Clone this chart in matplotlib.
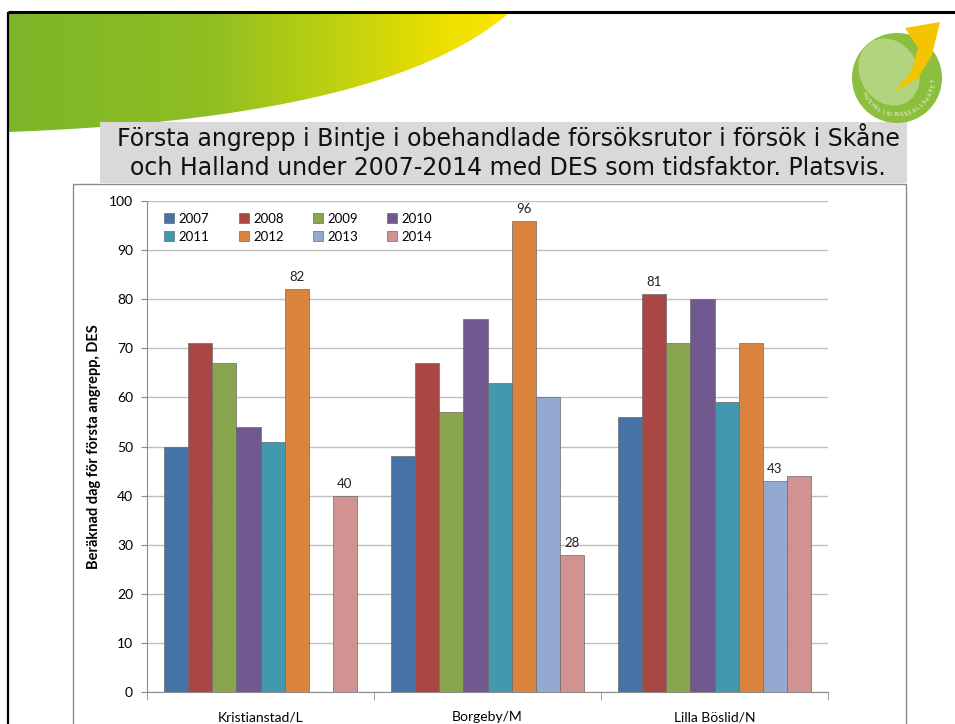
import numpy as np
import matplotlib
matplotlib.use("Agg")
import matplotlib.pyplot as plt
from matplotlib.patches import Rectangle, PathPatch, Circle, Ellipse, Polygon
from matplotlib.path import Path
from matplotlib.colors import LinearSegmentedColormap

# ---------------- data ----------------
sites = ["Kristianstad/L", "Borgeby/M", "Lilla Böslid/N"]
years = ["2007", "2008", "2009", "2010", "2011", "2012", "2013", "2014"]
v2007 = [50, 48, 56]
v2008 = [71, 67, 81]
v2009 = [67, 57, 71]
v2010 = [54, 76, 80]
v2011 = [51, 63, 59]
v2012 = [82, 96, 71]
v2013 = [np.nan, 60, 43]
v2014 = [40, 28, 44]
series = [v2007, v2008, v2009, v2010, v2011, v2012, v2013, v2014]
colors = ["#4572A7", "#AA4643", "#89A54E", "#71588F",
          "#4198AF", "#DB843D", "#93A9CF", "#D19392"]
# (site index, year index) pairs carrying a data label
labelled = [(0, 5), (0, 7), (1, 5), (1, 7), (2, 1), (2, 6)]
title_lines = ["Första angrepp i Bintje i obehandlade försöksrutor i försök i Skåne",
               "och Halland under 2007-2014 med DES som tidsfaktor. Platsvis."]
ylabel = "Beräknad dag för första angrepp, DES"

W, H = 955, 724
fig = plt.figure(figsize=(W / 100, H / 100), dpi=100)
fig.patch.set_facecolor("white")

# ---------------- slide decorations (pixel coordinate overlay) ----------------
bg = fig.add_axes([0, 0, 1, 1], zorder=0)
bg.set_xlim(0, W)
bg.set_ylim(H, 0)
bg.axis("off")

# swoosh with gradient
p0, p1, p2 = (8, 132), (390, 118), (510, 12)
t = np.linspace(0, 1, 60)
curve = [((1 - s) ** 2 * p0[0] + 2 * (1 - s) * s * p1[0] + s ** 2 * p2[0],
          (1 - s) ** 2 * p0[1] + 2 * (1 - s) * s * p1[1] + s ** 2 * p2[1]) for s in t]
verts = [(8, 12)] + curve + [(8, 12)]
sw_path = Path(verts)
sw_patch = PathPatch(sw_path, facecolor="none", edgecolor="none")
bg.add_patch(sw_patch)
cmap = LinearSegmentedColormap.from_list(
    "sw", [(0, "#7db52a"), (0.4, "#8fbe22"), (0.68, "#c4d30e"), (0.86, "#ebdf00"), (1, "#ffe600")])
grad = np.linspace(0, 1, 256).reshape(1, -1)
im = bg.imshow(grad, extent=(8, 510, 132, 12), cmap=cmap, aspect="auto", zorder=1)
im.set_clip_path(sw_patch)

# black slide borders
bg.plot([8, W], [12, 12], color="black", lw=2.2, zorder=5, solid_capstyle="butt")
bg.plot([8, 8], [12, H], color="black", lw=1.6, zorder=5, solid_capstyle="butt")

# logo
cx, cy, r = 897, 78, 45
bg.add_patch(Circle((cx, cy), r, facecolor="#8cbf3f", edgecolor="none", zorder=3))
bg.add_patch(Ellipse((cx - 8, cy - 6), 58, 70, angle=-30, facecolor="#b2d47f",
                     edgecolor="none", zorder=4))
bg.add_patch(Polygon([(905, 28), (940, 22), (932, 55), (918, 78), (895, 92),
                      (912, 70), (918, 48)], closed=True,
                     facecolor="#f5c400", edgecolor="none", zorder=4))
logo_txt = "HUSHÅLLNINGSSÄLLSKAPET"
angs = np.linspace(205, 355, len(logo_txt))
for ch, a in zip(logo_txt, angs):
    ar = np.deg2rad(a)
    rr = r - 8
    x = cx + rr * np.cos(ar)
    y = cy - rr * np.sin(ar)
    bg.text(x, y, ch, fontsize=3.6, color="white", ha="center", va="center",
            rotation=a + 90, zorder=6)

# title box
bg.add_patch(Rectangle((100, 122), 807, 61, facecolor="#d9d9d9", edgecolor="none", zorder=2))
bg.text(508, 137, title_lines[0], fontsize=17, ha="center", va="center",
        color="#111111", family="DejaVu Sans", zorder=6)
bg.text(508, 168, title_lines[1], fontsize=17, ha="center", va="center",
        color="#111111", family="DejaVu Sans", zorder=6)

# chart frame
bg.add_patch(Rectangle((73, 184), 833, 560, facecolor="white", edgecolor="#8c8c8c",
                       lw=1.0, zorder=2))

# ---------------- chart ----------------
ax = fig.add_axes([147 / W, 1 - 692 / H, (828 - 147) / W, (692 - 201) / H], zorder=3)
ax.set_facecolor("none")
n = len(series)
bw = 0.106
x = np.arange(len(sites))
for i, (vals, col, yr) in enumerate(zip(series, colors, years)):
    off = (i - (n - 1) / 2) * bw
    ax.bar(x + off, vals, bw, color=col, edgecolor="#6a6a6a", linewidth=0.5,
           label=yr, zorder=3)
for si, yi in labelled:
    off = (yi - (n - 1) / 2) * bw
    v = series[yi][si]
    ax.text(x[si] + off, v + 1.2, f"{v:g}", ha="center", va="bottom",
            fontsize=9.5, family="Lato", color="#222222", zorder=4)

ax.set_xlim(-0.5, len(sites) - 0.5)
ax.set_ylim(0, 100)
ax.set_yticks(np.arange(0, 101, 10))
ax.yaxis.grid(True, color="#bfbfbf", lw=1.0, zorder=0)
ax.set_axisbelow(True)
ax.set_xticks(x)
ax.set_xticklabels(sites, fontsize=10, family="Lato")
ax.set_xticks(np.arange(-0.5, len(sites), 1), minor=True)
ax.tick_params(axis="x", which="major", length=0, pad=14)
ax.tick_params(axis="x", which="minor", length=6, color="#8c8c8c")
ax.tick_params(axis="y", length=4, color="#8c8c8c", labelsize=10, pad=6)
for lab in ax.get_yticklabels():
    lab.set_family("Lato")
for s in ["top", "right"]:
    ax.spines[s].set_visible(False)
for s in ["left", "bottom"]:
    ax.spines[s].set_color("#8c8c8c")
ax.set_ylabel(ylabel, fontsize=10.5, fontweight="bold", family="Lato", labelpad=6)

h, l = ax.get_legend_handles_labels()
order = [0, 4, 1, 5, 2, 6, 3, 7]
ax.legend([h[k] for k in order], [l[k] for k in order], ncol=4, loc="upper left",
          bbox_to_anchor=(0.008, 1.0), frameon=False,
          handlelength=0.75, handleheight=0.75, handletextpad=0.35,
          columnspacing=2.2, labelspacing=0.45, prop={"family": "Lato", "size": 9.5})

fig.savefig("out.png", dpi=100)
